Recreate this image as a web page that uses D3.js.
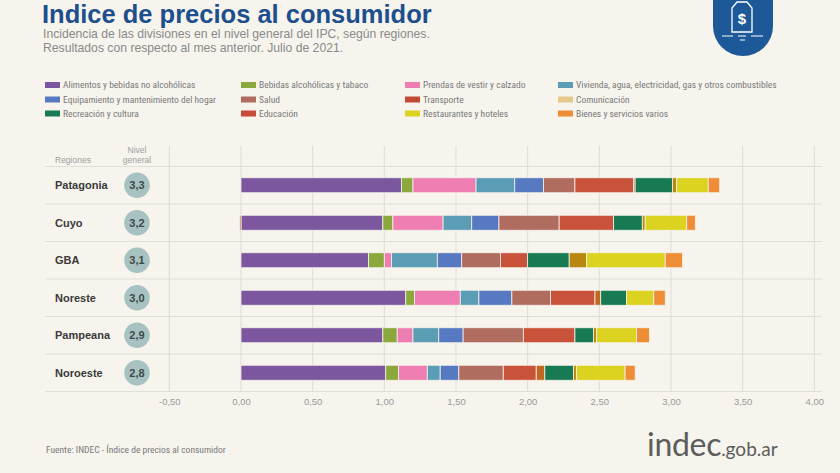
<!DOCTYPE html>
<html><head><meta charset="utf-8">
<script src="https://cdn.jsdelivr.net/npm/d3@7/dist/d3.min.js"></script>
<style>
body{margin:0;background:#f6f4ed;}
svg{display:block;font-family:"Liberation Sans",Arial,sans-serif;}
.narrow{font-family:"Liberation Sans Narrow","Roboto Condensed","Liberation Sans",sans-serif;}
</style>
</head><body><svg id="c" width="840" height="473"></svg>
<script>
// ---------- data ----------
const regions = ["Patagonia", "Cuyo", "GBA", "Noreste", "Pampeana", "Noroeste"];
const nivelGeneral = ["3,3", "3,2", "3,1", "3,0", "2,9", "2,8"];
const divisions = [
  "Alimentos y bebidas no alcohólicas", "Bebidas alcohólicas y tabaco", "Prendas de vestir y calzado",
  "Vivienda, agua, electricidad, gas y otros combustibles", "Equipamiento y mantenimiento del hogar", "Salud",
  "Transporte", "Comunicación", "Recreación y cultura", "Educación", "Restaurantes y hoteles", "Bienes y servicios varios"
];
// values per region (Patagonia, Cuyo, GBA, Noreste, Pampeana, Noroeste)
const alimentos     = [1.12, 0.99, 0.89, 1.15, 0.99, 1.01];
const bebidas       = [0.08, 0.07, 0.11, 0.06, 0.10, 0.09];
const prendas       = [0.44, 0.35, 0.05, 0.32, 0.11, 0.20];
const vivienda      = [0.27, 0.20, 0.32, 0.13, 0.18, 0.09];
const equipamiento  = [0.20, 0.19, 0.17, 0.23, 0.17, 0.13];
const salud         = [0.22, 0.42, 0.27, 0.27, 0.42, 0.31];
const transporte    = [0.41, 0.38, 0.19, 0.31, 0.36, 0.23];
const comunicacion  = [0.01, -0.01, 0.00, 0.04, 0.00, 0.06];
const recreacion    = [0.26, 0.20, 0.29, 0.18, 0.13, 0.20];
const educacion     = [0.03, 0.02, 0.12, 0.00, 0.02, 0.02];
const restaurantes  = [0.22, 0.29, 0.55, 0.19, 0.28, 0.34];
const bienes        = [0.08, 0.06, 0.12, 0.08, 0.09, 0.07];
const seriesValues = [alimentos, bebidas, prendas, vivienda, equipamiento, salud,
  transporte, comunicacion, recreacion, educacion, restaurantes, bienes];
const xTicks = [-0.5, 0, 0.5, 1, 1.5, 2, 2.5, 3, 3.5, 4];

// ---------- styles ----------
const barColors = ["#7c569f", "#8aa83c", "#ee7db1", "#5c9db6", "#5679c1", "#b06c5e",
  "#c9533a", "#c2671f", "#187a52", "#b8870f", "#dcd220", "#ef8c36"];
const legendColors = ["#7c569f", "#8aa83c", "#ee7db1", "#5c9db6", "#5679c1", "#b06c5e",
  "#c24a35", "#e5c88a", "#187a52", "#c74a3a", "#dcd220", "#ef8c36"];

const svg = d3.select("#c");
svg.append("rect").attr("width", 840).attr("height", 473).attr("fill", "#f6f4ed");

// ---------- header ----------
svg.append("text").attr("x", 42).attr("y", 22.5).attr("font-size", 25.5).attr("font-weight", "bold")
  .attr("fill", "#1c4f8c").text("Indice de precios al consumidor");
svg.append("text").attr("x", 43).attr("y", 37.5).attr("font-size", 12.2).attr("fill", "#8a8a8a")
  .text("Incidencia de las divisiones en el nivel general del IPC, según regiones.");
svg.append("text").attr("x", 43).attr("y", 51.5).attr("font-size", 12.2).attr("fill", "#8a8a8a")
  .text("Resultados con respecto al mes anterior. Julio de 2021.");

// logo
const logo = svg.append("g");
logo.append("path").attr("d", "M713,-5 L773,-5 L773,26 A30,30 0 0 1 713,26 Z").attr("fill", "#1d5898");
logo.append("path").attr("d", "M737,2 L747,2 L752,8 L752,32 L732,32 L732,8 Z")
  .attr("fill", "none").attr("stroke", "#fff").attr("stroke-width", 1.3);
logo.append("text").attr("x", 742).attr("y", 24).attr("text-anchor", "middle").attr("font-size", 15)
  .attr("font-weight", "bold").attr("fill", "#fff").text("$");
[[722, 733, 36], [738, 746, 36], [751, 763, 36], [740, 745, 40]].forEach(d => {
  logo.append("line").attr("x1", d[0]).attr("x2", d[1]).attr("y1", d[2]).attr("y2", d[2])
    .attr("stroke", "#fff").attr("stroke-width", 1);
});

// legend
const legend = svg.append("g").attr("class", "narrow");
const legCols = [45, 241, 405, 558];
const legRows = [85, 99.5, 113.5];
divisions.forEach((d, i) => {
  const gx = legCols[i % 4], gy = legRows[Math.floor(i / 4)];
  legend.append("rect").attr("x", gx).attr("y", gy - 3).attr("width", 15).attr("height", 6)
    .attr("fill", legendColors[i]);
  legend.append("text").attr("x", gx + 18).attr("y", gy + 3.3).attr("font-size", 9.5)
    .attr("fill", "#7a7a7a").text(d);
});

// ---------- chart ----------
const x = d3.scaleLinear().domain([-0.5, 4]).range([169.3, 814.3]);
const y = d3.scaleBand().domain(regions).range([166.5, 391.5]).paddingInner(0.6).paddingOuter(0.3);
const rowBand = d3.scaleBand().domain(regions).range([166.5, 391.5]);

// vertical grid
svg.append("g").selectAll("line").data(xTicks).join("line")
  .attr("x1", d => x(d)).attr("x2", d => x(d)).attr("y1", 146).attr("y2", 392)
  .attr("stroke", "#dedcd4").attr("stroke-width", 1);
// horizontal separators
const seps = regions.map(r => rowBand(r)).concat([rowBand.range()[1]]);
svg.append("g").selectAll("line").data(seps).join("line")
  .attr("x1", 45).attr("x2", 822).attr("y1", d => d).attr("y2", d => d)
  .attr("stroke", "#e0ded6").attr("stroke-width", 1);

// stacked bars
const table = regions.map((r, ri) => {
  const o = { region: r };
  divisions.forEach((d, di) => { o[d] = seriesValues[di][ri]; });
  return o;
});
const stack = d3.stack().keys(divisions).offset(d3.stackOffsetDiverging)(table);
svg.append("g").selectAll("g").data(stack).join("g")
  .attr("fill", (d, i) => barColors[i])
  .selectAll("rect").data(d => d).join("rect")
  .attr("x", d => x(Math.min(d[0], d[1])))
  .attr("width", d => Math.abs(x(d[1]) - x(d[0])))
  .attr("y", d => y(d.data.region))
  .attr("height", y.bandwidth())
  .attr("stroke", "#f6f4ed").attr("stroke-width", 0.8);

// x axis labels
const axis = d3.axisBottom(x).tickValues(xTicks).tickSize(0).tickPadding(0)
  .tickFormat(d => d3.format(".2f")(d).replace(".", ",").replace("−", "-"));
const ax = svg.append("g").attr("class", "narrow").attr("transform", "translate(0,398)").call(axis);
ax.select(".domain").remove();
ax.selectAll("text").attr("font-size", 9.5).attr("fill", "#9a9a9a").attr("dy", "0.71em")
  .style("font-family", "'Liberation Sans Narrow','Liberation Sans',sans-serif");

// row headers
svg.append("text").attr("x", 55).attr("y", 163).attr("font-size", 8.5).attr("fill", "#a0a0a0").text("Regiones");
svg.append("text").attr("x", 137).attr("y", 153).attr("font-size", 8.5).attr("fill", "#a0a0a0")
  .attr("text-anchor", "middle").text("Nivel");
svg.append("text").attr("x", 137).attr("y", 163).attr("font-size", 8.5).attr("fill", "#a0a0a0")
  .attr("text-anchor", "middle").text("general");

const rowsG = svg.append("g").selectAll("g").data(regions).join("g")
  .attr("transform", d => `translate(0,${rowBand(d) + rowBand.bandwidth() / 2})`);
rowsG.append("text").attr("x", 55).attr("y", 4).attr("font-size", 11).attr("font-weight", "bold")
  .attr("fill", "#3a3a3a").text(d => d);
rowsG.append("circle").attr("cx", 137).attr("cy", 0).attr("r", 12.8).attr("fill", "#a8c2c1");
rowsG.append("text").attr("x", 137).attr("y", 4).attr("text-anchor", "middle").attr("font-size", 11)
  .attr("font-weight", "bold").attr("fill", "#3d4a4a").text((d, i) => nivelGeneral[i]);

// footer
svg.append("text").attr("class", "narrow").attr("x", 46).attr("y", 453).attr("font-size", 9.5)
  .attr("fill", "#7a7a7a").text("Fuente: INDEC - Índice de precios al consumidor");
const site = svg.append("text").attr("x", 647).attr("y", 456).attr("fill", "#5c5c5c")
  .style("font-family", "Lato, 'Liberation Sans', sans-serif");
site.append("tspan").attr("font-size", 32).attr("letter-spacing", -0.3).text("indec");
site.append("tspan").attr("font-size", 19).text(".gob.ar");
</script>
</body></html>
